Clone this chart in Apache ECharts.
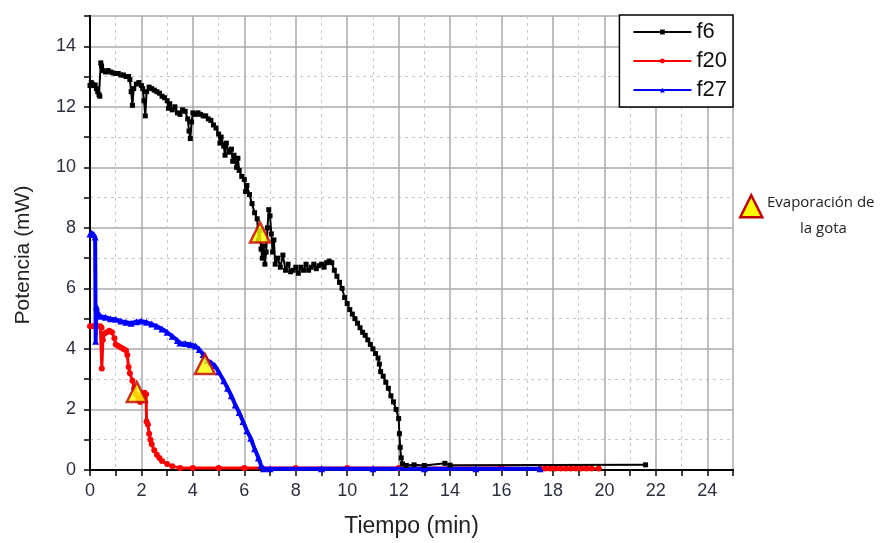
<!DOCTYPE html>
<html lang="es">
<head>
<meta charset="UTF-8">
<title>Potencia vs Tiempo</title>
<script src="https://cdn.jsdelivr.net/npm/echarts@6/dist/echarts.min.js"></script>
<style>
  html, body { margin: 0; padding: 0; background: #fff; }
  #main { width: 888px; height: 543px; }
</style>
</head>
<body>
<div id="main"></div>
<script>
// f6 (negro)
var f6 = [[0,12.7],[0.05,12.8],[0.1,12.75],[0.15,12.7],[0.2,12.72],[0.25,12.6],[0.3,12.5],[0.35,12.4],[0.38,12.35],
  [0.42,13.45],[0.45,13.35],[0.5,13.2],[0.6,13.15],[0.7,13.2],[0.8,13.15],[0.9,13.12],[1.0,13.1],[1.1,13.1],[1.2,13.05],
  [1.3,13.05],[1.4,13.0],[1.5,13.0],[1.55,12.9],[1.6,12.5],[1.65,12.05],[1.7,12.6],[1.8,12.75],[1.9,12.8],[2.0,12.7],
  [2.05,12.6],[2.1,12.2],[2.15,11.7],[2.2,12.5],[2.3,12.65],[2.4,12.6],[2.5,12.55],[2.6,12.5],[2.7,12.45],[2.8,12.35],
  [2.9,12.3],[3.0,12.2],[3.05,11.95],[3.1,12.1],[3.2,11.9],[3.3,12.0],[3.4,11.8],[3.5,11.75],[3.6,11.9],[3.7,11.85],
  [3.8,11.6],[3.85,11.2],[3.9,10.95],[3.95,11.5],[4.0,11.8],[4.1,11.75],[4.2,11.8],[4.3,11.75],[4.4,11.7],[4.5,11.7],
  [4.6,11.6],[4.7,11.55],[4.8,11.4],[4.9,11.3],[5.0,11.1],[5.05,10.8],[5.1,11.0],[5.2,10.7],[5.25,10.4],[5.3,10.8],
  [5.4,10.5],[5.5,10.6],[5.55,10.2],[5.6,10.4],[5.7,10.0],[5.75,10.3],[5.8,9.9],[5.9,9.7],[6.0,9.6],[6.05,9.2],
  [6.1,9.4],[6.2,9.1],[6.3,8.8],[6.4,8.5],[6.5,8.3],[6.55,7.6],[6.6,7.9],[6.65,7.3],[6.7,7.0],[6.75,7.4],[6.8,6.8],
  [6.85,7.2],[6.9,8.0],[6.95,8.6],[7.0,8.4],[7.05,7.8],[7.1,7.2],[7.15,7.6],[7.2,6.8],[7.3,7.0],[7.4,6.7],[7.5,7.1],
  [7.6,6.6],[7.7,6.8],[7.8,6.55],[7.9,6.6],[8.0,6.7],[8.1,6.5],[8.2,6.7],[8.3,6.6],[8.4,6.8],[8.5,6.6],[8.6,6.7],
  [8.7,6.8],[8.8,6.65],[8.9,6.75],[9.0,6.8],[9.1,6.7],[9.2,6.85],[9.3,6.9],[9.4,6.85],[9.5,6.6],[9.6,6.4],[9.7,6.2],
  [9.8,6.0],[9.9,5.7],[10.0,5.5],[10.1,5.3],[10.2,5.15],[10.3,5.0],[10.4,4.85],[10.5,4.7],[10.6,4.55],[10.7,4.45],
  [10.8,4.3],[10.9,4.15],[11.0,4.0],[11.1,3.85],[11.2,3.7],[11.25,3.5],[11.3,3.25],[11.4,3.1],[11.5,2.9],[11.6,2.7],
  [11.7,2.45],[11.8,2.25],[11.9,2.0],[12.0,1.7],[12.03,1.2],[12.06,0.75],[12.1,0.4],[12.15,0.2],[12.3,0.15],[12.6,0.17],
  [13.0,0.15],[13.8,0.22],[14.0,0.16],[21.6,0.17]];

// f20 (rojo)
var f20 = [[0,4.75],[0.1,4.75],[0.2,4.75],[0.3,4.75],[0.4,4.75],[0.45,4.7],[0.46,3.35],[0.5,4.3],[0.55,4.5],[0.65,4.55],
  [0.75,4.6],[0.85,4.55],[0.95,4.35],[1.0,4.15],[1.1,4.1],[1.2,4.05],[1.3,4.0],[1.4,3.95],[1.45,3.8],[1.5,3.4],[1.55,3.2],
  [1.65,2.95],[1.72,2.7],[1.8,2.5],[1.88,2.35],[1.95,2.25],[2.0,2.3],[2.05,2.5],[2.12,2.55],[2.18,2.5],[2.2,1.6],[2.25,1.5],
  [2.3,1.2],[2.35,1.0],[2.4,0.85],[2.5,0.65],[2.6,0.5],[2.7,0.4],[2.8,0.3],[3.0,0.2],[3.2,0.12],[3.5,0.07],[4,0.07],[5,0.07],
  [6,0.07],[8,0.07],[10,0.07],[12,0.07],[14,0.07],[16,0.07],[17.5,0.05],[17.7,0.05],[17.9,0.05],[18.1,0.05],[18.3,0.05],
  [18.5,0.05],[18.7,0.05],[18.9,0.05],[19.1,0.05],[19.3,0.05],[19.5,0.05],[19.78,0.05]];

// f27 (azul)
var f27 = [[0,7.8],[0.05,7.82],[0.1,7.8],[0.15,7.78],[0.2,7.7],[0.22,4.25],[0.25,5.4],[0.3,5.2],[0.4,5.08],[0.6,5.05],
  [0.8,5.0],[1.0,4.98],[1.2,4.92],[1.4,4.88],[1.6,4.85],[1.8,4.9],[2.0,4.92],[2.2,4.88],[2.4,4.82],[2.6,4.75],[2.8,4.66],
  [3.0,4.55],[3.2,4.42],[3.4,4.28],[3.5,4.2],[3.7,4.18],[3.9,4.15],[4.1,4.1],[4.25,3.98],[4.4,3.82],[4.55,3.62],[4.7,3.55],
  [4.85,3.45],[5.0,3.25],[5.2,2.95],[5.35,2.7],[5.5,2.45],[5.65,2.15],[5.8,1.9],[5.95,1.6],[6.1,1.3],[6.25,1.05],[6.4,0.7],
  [6.55,0.4],[6.65,0.15],[6.75,0.04],[7,0.04],[9,0.04],[11,0.04],[13,0.04],[15,0.04],[17.5,0.04]];

// evaporación de la gota
var evap = [[6.61,7.85],[1.82,2.58],[4.47,3.5]];

var xMax = 25, yMax = 15;

var chart = echarts.init(document.getElementById('main'));

var tickFont = { fontFamily: 'Liberation Sans', fontSize: 18, color: '#2b3040' };

var option = {
  animation: false,
  backgroundColor: '#fff',
  grid: { left: 90, right: 155, top: 16, bottom: 70 },
  legend: {
    orient: 'vertical',
    right: 155,
    top: 15,
    data: ['f6', 'f20', 'f27'],
    itemWidth: 58,
    itemHeight: 6,
    itemGap: 7,
    padding: [6, 6, 6, 13],
    borderColor: '#000',
    borderWidth: 1.5,
    backgroundColor: '#fff',
    textStyle: { fontFamily: 'Liberation Sans', fontSize: 22, color: '#111' }
  },
  xAxis: [{
    type: 'value', min: 0, max: xMax, interval: 2,
    name: 'Tiempo (min)', nameLocation: 'middle', nameGap: 45,
    nameTextStyle: { fontFamily: 'Liberation Sans', fontSize: 23, color: '#222' },
    axisLine: { onZero: false, lineStyle: { color: '#000', width: 2 } },
    axisTick: { length: 6, lineStyle: { color: '#000', width: 1.5 } },
    minorTick: { show: true, splitNumber: 2, length: 6, lineStyle: { color: '#000', width: 1.5 } },
    splitLine: { lineStyle: { color: '#aaa', width: 1.5 } },
    minorSplitLine: { show: true, lineStyle: { color: '#c8c8c8', type: [3, 4] } },
    axisLabel: Object.assign({ showMaxLabel: false, margin: 12 }, tickFont)
  }, {
    type: 'value', position: 'top', min: 0, max: xMax,
    axisLine: { show: true, lineStyle: { color: '#000', width: 2 } },
    axisTick: { show: false }, axisLabel: { show: false }, splitLine: { show: false }
  }],
  yAxis: [{
    type: 'value', min: 0, max: yMax, interval: 2,
    name: 'Potencia (mW)', nameLocation: 'middle', nameGap: 56,
    nameTextStyle: { fontFamily: 'Liberation Sans', fontSize: 21, color: '#222', padding: [0, 24, 0, 0] },
    axisLine: { onZero: false, lineStyle: { color: '#000', width: 2 } },
    axisTick: { length: 6, lineStyle: { color: '#000', width: 1.5 } },
    minorTick: { show: true, splitNumber: 2, length: 6, lineStyle: { color: '#000', width: 1.5 } },
    splitLine: { lineStyle: { color: '#aaa', width: 1.5 } },
    minorSplitLine: { show: true, lineStyle: { color: '#c8c8c8', type: [3, 4] } },
    axisLabel: Object.assign({ showMaxLabel: false, margin: 14 }, tickFont)
  }, {
    type: 'value', position: 'right', min: 0, max: yMax,
    axisLine: { show: true, lineStyle: { color: '#000', width: 2 } },
    axisTick: { show: false }, axisLabel: { show: false }, splitLine: { show: false }
  }],
  series: [
    {
      name: 'f20', type: 'line', data: f20, z: 3,
      color: '#ff0000', symbol: 'circle', symbolSize: 6,
      lineStyle: { width: 3, color: '#ff0000' }
    },
    {
      name: 'f27', type: 'line', data: f27, z: 4,
      color: '#0000ff', symbol: 'triangle', symbolSize: 7,
      lineStyle: { width: 4, color: '#0000ff' }
    },
    {
      name: 'f6', type: 'line', data: f6, z: 5,
      color: '#000', symbol: 'rect', symbolSize: 5,
      lineStyle: { width: 2, color: '#000' }
    },
    {
      name: 'Evaporación de la gota', type: 'scatter', data: evap, z: 6,
      symbol: 'triangle', symbolSize: [20, 20],
      itemStyle: { color: '#ffff00', borderColor: '#c00000', borderWidth: 2.5 }
    }
  ],
  graphic: [
    {
      type: 'polygon', left: 739, top: 194,
      shape: { points: [[11, 0], [0, 22], [22, 22]] },
      style: { fill: '#ffff00', stroke: '#c00000', lineWidth: 2.5 }
    },
    {
      type: 'text', left: 767, top: 195,
      style: { text: 'Evaporación de', fontFamily: 'Open Sans', fontSize: 15, fill: '#222' }
    },
    {
      type: 'text', left: 800, top: 221,
      style: { text: 'la gota', fontFamily: 'Open Sans', fontSize: 15, fill: '#222' }
    }
  ]
};

chart.setOption(option);
</script>
</body>
</html>
